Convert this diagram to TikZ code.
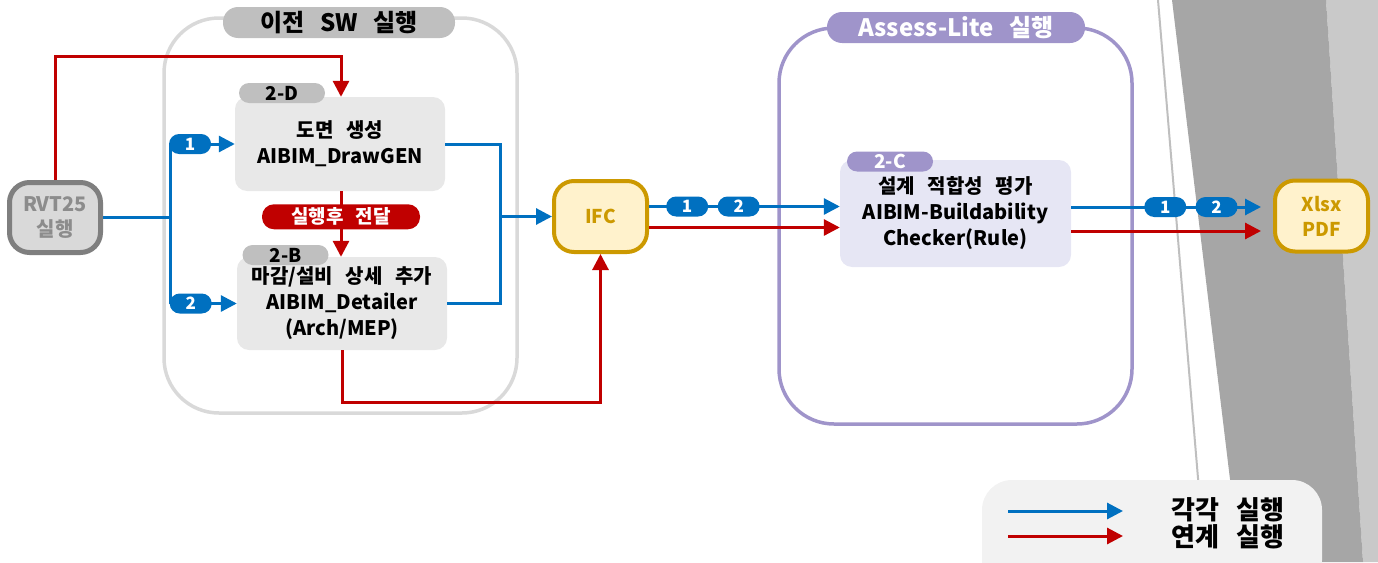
\documentclass[tikz,border=0pt]{standalone}
\usepackage{fontspec}
\setmainfont{Noto Sans CJK KR}[WordSpace=2.8]
\usetikzlibrary{arrows.meta,positioning}
\definecolor{runblue}{HTML}{0070C0}
\definecolor{linkred}{HTML}{C00000}
\definecolor{swgray}{HTML}{D9D9D9}
\definecolor{taggray}{HTML}{BFBFBF}
\definecolor{boxgray}{HTML}{E8E8E8}
\definecolor{lilac}{HTML}{9F94CA}
\definecolor{boxlilac}{HTML}{E6E6F4}
\definecolor{filefill}{HTML}{FFF2CC}
\definecolor{filegold}{HTML}{CC9900}
\definecolor{rvtline}{HTML}{7F7F7F}
\definecolor{rvttext}{HTML}{8C8C8C}
\definecolor{slidedark}{HTML}{A6A6A6}
\definecolor{slidelight}{HTML}{C9C9C9}
\definecolor{legendbg}{HTML}{F2F2F2}

\begin{document}
\begin{tikzpicture}[
    x=1pt, y=-1pt,
    group/.style={%
      rounded corners=55pt,
      line width=3.5pt,
    },
    title/.style={%
      rounded corners=15pt,
      minimum height=31pt,
      inner sep=0pt,
      font=\fontsize{24}{26}\selectfont\bfseries,
    },
    proc/.style={%
      rounded corners=12pt,
      inner sep=0pt,
      align=center,
      font=\fontsize{20}{26}\selectfont\bfseries,
    },
    tag/.style={%
      rounded corners=10pt,
      minimum width=86pt,
      minimum height=20pt,
      inner sep=0pt,
      font=\fontsize{19}{19}\selectfont\bfseries,
    },
    badge/.style={%
      fill=runblue,
      text=white,
      rounded corners=10pt,
      minimum width=42pt,
      minimum height=20pt,
      inner sep=0pt,
      font=\fontsize{17}{17}\selectfont\bfseries,
    },
    file/.style={%
      fill=filefill,
      draw=filegold,
      text=filegold,
      line width=4pt,
      rounded corners=20pt,
      minimum width=93pt,
      minimum height=71pt,
      inner sep=0pt,
      align=center,
      font=\fontsize{19}{25}\selectfont\bfseries,
    },
    each/.style={%
      draw=runblue,
      line width=3pt,
      -{Triangle[length=16pt,width=16pt]},
    },
    linked/.style={%
      draw=linkred,
      line width=3pt,
      -{Triangle[length=16pt,width=16pt]},
    },
  ]

    \useasboundingbox (0,0) rectangle (1378,562);
    \clip (0,0) rectangle (1378,562);

    \fill [slidelight] (1326,0) -- (1378,0) -- (1378,562) -- (1363,562) -- cycle;
    \fill [slidedark] (1172,0) -- (1326,0) -- (1363,562) -- (1240,562) -- cycle;
    \draw [taggray, line width=2pt] (1158,0) -- (1205,562);

    \draw [group, draw=swgray] (164,18) rectangle (517,413);
    \draw [group, draw=lilac] (779,28) rectangle (1132,424);
    \node [title, fill=taggray, minimum width=232pt] (T1) at (339,22.5) {이전 SW 실행};
    \node [title, fill=lilac, text=white, minimum width=258pt] (T2) at (956,27.5) {Assess-Lite 실행};

    \node [proc, fill=boxgray, minimum width=210pt, minimum height=94pt] (D) at (340,144) {도면 생성\\AIBIM\_DrawGEN};
    \node [proc, fill=boxgray, minimum width=210pt, minimum height=93pt] (B) at (342,303.5) {마감/설비 상세 추가\\AIBIM\_Detailer\\(Arch/MEP)};
    \node [proc, fill=boxlilac, minimum width=231pt, minimum height=107pt] (C) at (955.5,213.5) {설계 적합성 평가\\AIBIM-Buildability\\Checker(Rule)};
    \node [tag, fill=taggray] (tD) at (282,93) {2-D};
    \node [tag, fill=taggray] (tB) at (285.5,255) {2-B};
    \node [tag, fill=lilac, text=white] (tC) at (890,161.5) {2-C};

    \node [file, fill=swgray, draw=rvtline, text=rvttext, line width=5pt, minimum width=91pt, minimum height=70pt, font=\fontsize{20}{25}\selectfont\bfseries] (R) at (55,217.5) {RVT25\\실행};
    \node [file] (I) at (600.5,216.5) {IFC};
    \node [file] (X) at (1321.5,216) {Xlsx\\PDF};

    \coordinate (jl) at (170,217.5);
    \coordinate (jl1) at (170,144);
    \coordinate (jl2) at (170,303.5);
    \coordinate (jr) at (500,216.5);
    \coordinate (bend1) at (55,56);
    \coordinate (bend2) at (342,402);

    \draw [each, -] (R.east) -- (jl);
    \draw [each, -] (jl1) -- (jl2);
    \draw [each] (jl1) -- (D.west) node [badge, pos=0.31] {1};
    \draw [each] (jl2) -- (B.west) node [badge, pos=0.31] {2};
    \draw [each, -] (D.east) -| (jr);
    \draw [each, -] (B.east) -| (jr);
    \draw [each] (jr) -- (I.west);

    \draw [linked] (R.north) -- (bend1) -| ([xshift=1pt]D.north);
    \draw [linked] ([xshift=1pt]D.south) -- ([xshift=1pt]D.south |- B.north)
      node [pos=0.39, fill=linkred, text=white, rounded corners=12pt, minimum width=158pt, minimum height=25pt, inner sep=0pt, font=\fontsize{19}{19}\selectfont\bfseries] (relay) {실행후 전달};
    \draw [linked] (B.south) -- (bend2) -| (I.south);

    \draw [each] ([yshift=10pt]I.east) -- ([yshift=10pt]I.east -| C.west)
      node [badge, pos=0.2] {1} node [badge, pos=0.47] {2};
    \draw [linked] ([yshift=-11pt]I.east) -- ([yshift=-11pt]I.east -| C.west);
    \draw [each, shorten >=12pt] ([yshift=6.5pt]C.east) -- ([yshift=6.5pt]C.east -| X.west)
      node [badge, pos=0.466] {1} node [badge, pos=0.72] {2};
    \draw [linked, shorten >=12pt] ([yshift=-17.5pt]C.east) -- ([yshift=-17.5pt]C.east -| X.west);

    \node [fill=legendbg, rounded corners=30pt, minimum width=340pt, minimum height=110pt] (L) at (1152,535) {};
    \coordinate (ea) at (1008,511);
    \coordinate (eb) at (1123,511);
    \coordinate (la) at (1008,536);
    \coordinate (lb) at (1123,536);
    \draw [each] (ea) -- (eb);
    \draw [linked] (la) -- (lb);
    \node [align=left, inner sep=0pt, font=\fontsize{26}{27}\selectfont\bfseries] (lt) at (1228,523.5) {각각 실행\\연계 실행};

\end{tikzpicture}
\end{document}
